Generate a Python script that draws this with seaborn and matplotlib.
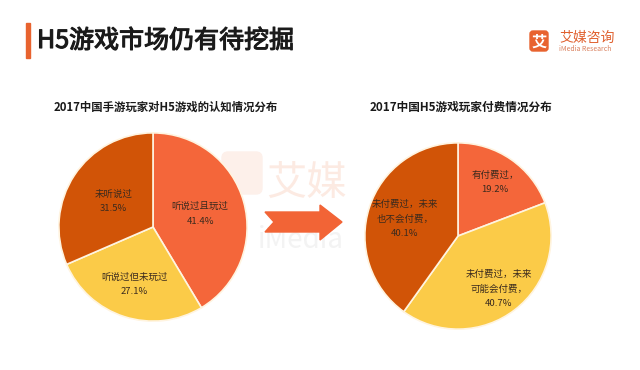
import matplotlib.pyplot as plt
import matplotlib.patheffects as pe
import seaborn as sns
import numpy as np
from matplotlib.patches import Polygon, FancyBboxPatch, Rectangle

sns.set_theme(style='white')
plt.rcParams['font.family'] = ['Noto Sans CJK SC', 'DejaVu Sans']

# data
title = 'H5游戏市场仍有待挖掘'
left_title = '2017中国手游玩家对H5游戏的认知情况分布'
left_labels = ['听说过且玩过', '听说过但未玩过', '未听说过']
left_values = [41.4, 27.1, 31.5]
right_title = '2017中国H5游戏玩家付费情况分布'
right_labels = ['有付费过，', '未付费过，未来\n可能会付费，', '未付费过，未来\n也不会付费，']
right_values = [19.2, 40.7, 40.1]

colors = ['#F4663A', '#FBCB48', '#D15407']
text_color = '#3A2A1E'

W, H = 640, 370
fig = plt.figure(figsize=(6.4, 3.7), dpi=100)
fig.patch.set_facecolor('white')

# background axes in pixel coords for decorations
bg = fig.add_axes([0, 0, 1, 1])
bg.set_xlim(0, W)
bg.set_ylim(H, 0)
bg.axis('off')

# title with orange bar
bg.add_patch(Rectangle((26, 23), 4, 35, color='#E8632F'))
bg.text(37, 41, title, fontsize=18, color='#1A1A1A', va='center', ha='left',
        path_effects=[pe.withStroke(linewidth=0.8, foreground='#1A1A1A')])

# logo
bg.add_patch(FancyBboxPatch((530, 31), 18, 20, boxstyle='round,pad=0,rounding_size=3',
                            color='#E8632F'))
bg.text(539, 41.5, '艾', fontsize=11, color='white', ha='center', va='center', fontweight='bold')
bg.text(559, 38, '艾媒咨询', fontsize=10, color='#E0602E', ha='left', va='center')
bg.text(559, 49, 'iMedia Research', fontsize=5, color='#D9805E', ha='left', va='center')

# watermark
bg.add_patch(FancyBboxPatch((222, 152), 40, 42, boxstyle='round,pad=0,rounding_size=6',
                            color='#FDF0EA', zorder=0))
bg.text(266, 183, '艾媒', fontsize=29, color='#FCEAE2', ha='left', va='center', zorder=0)
bg.text(258, 240, 'iMedia', fontsize=20, color='#F3F3F3', ha='left', va='center', zorder=0)

# arrow
arrow = [(265, 212), (320, 212), (320, 205), (342, 222), (320, 240),
         (320, 232), (265, 232), (274, 222)]
bg.add_patch(Polygon(arrow, closed=True, color='#F26436', zorder=3))

# subtitles
bg.text(166, 107, left_title, fontsize=8.2, fontweight='bold', color='#1A1A1A',
        ha='center', va='center')
bg.text(461, 107, right_title, fontsize=8.4, fontweight='bold', color='#1A1A1A',
        ha='center', va='center')


def draw_pie(cx, cy, r, values, labels, dists):
    ax = fig.add_axes([(cx - r) / W, 1 - (cy + r) / H, 2 * r / W, 2 * r / H])
    wedges, _ = ax.pie(values, colors=colors, startangle=90, counterclock=False,
                       wedgeprops=dict(edgecolor='#FFF4E0', linewidth=1.2))
    for w, lab, v, d in zip(wedges, labels, values, dists):
        ang = np.deg2rad((w.theta1 + w.theta2) / 2)
        ax.text(d * np.cos(ang), d * np.sin(ang), f'{lab}\n{v}%', fontsize=6.8,
                color=text_color, ha='center', va='center', linespacing=1.8)
    ax.set_xlim(-1.02, 1.02)
    ax.set_ylim(-1.02, 1.02)
    ax.set_aspect('equal')
    ax.axis('off')
    return ax


draw_pie(153, 227, 96, left_values, left_labels, [0.52, 0.64, 0.50])
draw_pie(458, 236, 95, right_values, right_labels, [0.70, 0.72, 0.60])

fig.savefig('out.png', dpi=100)
